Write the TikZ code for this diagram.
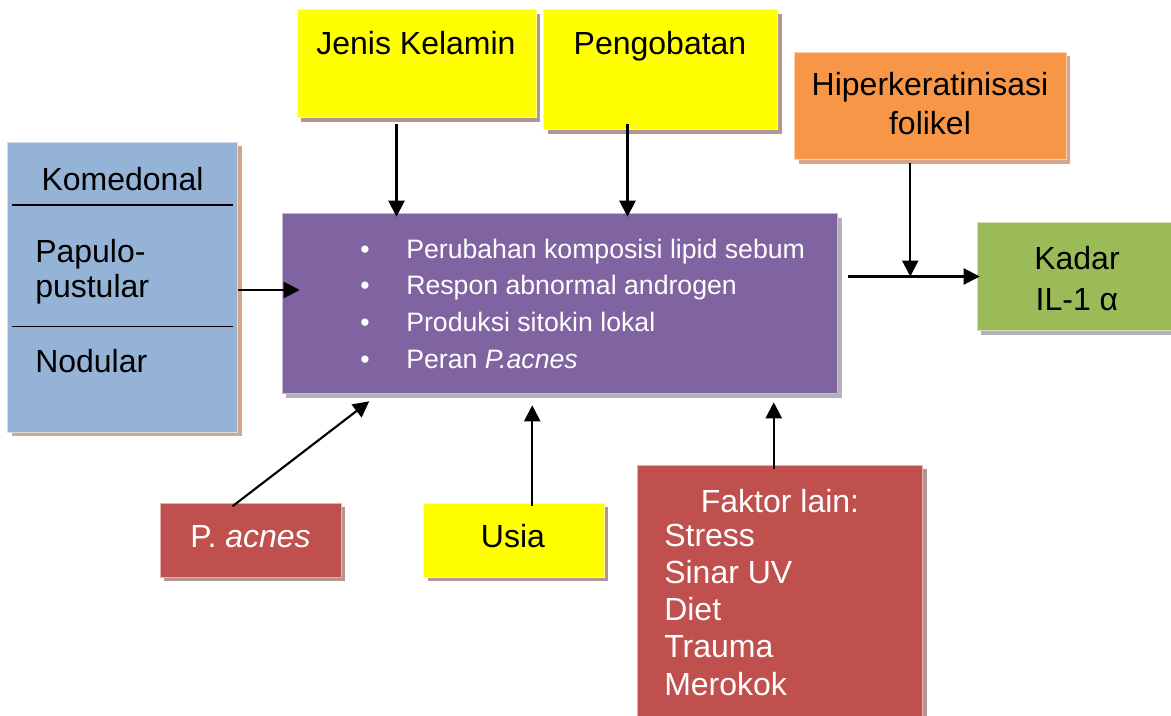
\documentclass[tikz,border=0pt]{standalone}
\usepackage{fontspec}
\setmainfont{Liberation Sans}
\usepackage{tikz}
\usetikzlibrary{calc}
\usetikzlibrary{shadows}
\usetikzlibrary{arrows.meta}

\newdimen\px \px=0.75pt

\definecolor{biru}{HTML}{95B3D7}
\definecolor{kuning}{HTML}{FFFF00}
\definecolor{oranye}{HTML}{F79646}
\definecolor{ungu}{HTML}{8064A2}
\definecolor{hijau}{HTML}{9BBB59}
\definecolor{merah}{HTML}{C0504D}
\definecolor{bayangtan}{HTML}{D4A789}
\definecolor{bayangmerah}{HTML}{B49595}
\definecolor{bayangabu}{HTML}{B3B2BA}

\begin{document}
\begin{tikzpicture}[x=0.75pt,y=-0.75pt,
    kotak/.style 2 args={rectangle, fill=#1, draw=white!55!#1, line width=0.4pt, inner sep=0pt,
      general shadow={fill=#2, shadow xshift=3pt, shadow yshift=-3pt}},
    teks/.style={font=\fontsize{24}{28}\selectfont, inner sep=0pt, anchor=base},
    panah/.style={-{Triangle[length=12pt,width=12pt]}, line width=1.6pt}]
    \useasboundingbox (0,0) rectangle (1171,715);

    % kotak-kotak
    \node[kotak={biru}{bayangtan}, minimum width=230\px, minimum height=290\px] (kom) at (122.5,287) {};
    \node[kotak={kuning}{bayangmerah}, minimum width=239\px, minimum height=108\px] (jk) at (416.5,63.5) {};
    \node[kotak={kuning}{bayangmerah}, minimum width=234\px, minimum height=120\px] (peng) at (660.5,69.5) {};
    \node[kotak={oranye}{bayangtan}, minimum width=271.5\px, minimum height=107.5\px] (hip) at (930.25,105.75) {};
    \node[kotak={ungu}{bayangabu}, minimum width=555.5\px, minimum height=180\px] (pur) at (559.75,303.5) {};
    \node[kotak={hijau}{bayangabu}, minimum width=200\px, minimum height=108\px] (kadar) at (1077,276.5) {};
    \node[kotak={merah}{bayangmerah}, minimum width=181\px, minimum height=74\px] (pac) at (250.5,540) {};
    \node[kotak={kuning}{bayangmerah}, minimum width=180.5\px, minimum height=74\px] (usia) at (513.75,540) {};
    \node[kotak={merah}{bayangmerah}, minimum width=285.5\px, minimum height=260\px] (fl) at (779.75,595) {};

    % teks
    \node[teks] (kom-t) at (122.5,190) {Komedonal};
    \node[teks, anchor=base west, align=left, font=\fontsize{24}{26.25}\selectfont] (kom-p) at (35,297) {Papulo-\\pustular};
    \node[teks, anchor=base west] (kom-n) at (35,372) {Nodular};
    \draw[line width=1.1pt] (11.5,205) -- (233,205);
    \draw[line width=1.1pt] (11.5,326.5) -- (233,326.5);
    \node[teks] (jk-t) at (416,54) {Jenis Kelamin};
    \node[teks] (peng-t) at (660,54) {Pengobatan};
    \node[teks, align=center, font=\fontsize{24}{29.25}\selectfont] (hip-t) at (930,134) {Hiperkeratinisasi\\folikel};
    \node[teks, align=center, font=\fontsize{24}{30.4}\selectfont] (kadar-t) at (1077,310.5) {Kadar\\IL-1 α};
    \node[teks, anchor=base west, text=white, font=\fontsize{20}{27.5}\selectfont] (pur-l) at (360,258)
      {\begin{tabular}[t]{@{}l@{\hspace{27.5pt}}l@{}}
        • & Perubahan komposisi lipid sebum\\
        • & Respon abnormal androgen\\
        • & Produksi sitokin lokal\\
        • & Peran \textit{P.acnes}
      \end{tabular}};
    \node[teks, text=white] (pac-t) at (250.5,547) {P. \textit{acnes}};
    \node[teks] (usia-t) at (513,547) {Usia};
    \node[teks, text=white] (fl-t) at (780,512) {Faktor lain:};
    \node[teks, anchor=base west, align=left, text=white, font=\fontsize{24}{27.8}\selectfont] (fl-l) at (664,695)
      {Stress\\Sinar UV\\Diet\\Trauma\\Merokok};

    % panah
    \draw[panah] ($(kom.east)+(0,3)$) coordinate (k1) -- ($(k1 -| pur.west)+(18,0)$);
    \draw[panah] ($(jk.south)+(-20,6.5)$) coordinate (j1) -- ($(j1 |- pur.north)+(0,3.5)$);
    \draw[panah] ($(peng.south)+(-33,-5.5)$) coordinate (p1) -- ($(p1 |- pur.north)+(0,3.5)$);
    \draw[panah] ($(hip.south)+(-20,3)$) coordinate (h1) -- (h1 |- kadar.west);
    \draw[panah] ($(pur.east |- kadar.west)+(10.5,0)$) -- ($(kadar.west)+(3,0)$);
    \draw[panah] ($(pac.north)+(-18,3.5)$) -- ($(pur.south west)+(87.5,7.5)$);
    \draw[panah] ($(usia.north)+(18.5,3.5)$) coordinate (u1) -- ($(u1 |- pur.south)+(0,11.5)$);
    \draw[panah] ($(fl.north)+(-6,4)$) coordinate (f1) -- ($(f1 |- pur.south)+(0,8.5)$);
\end{tikzpicture}
\end{document}
